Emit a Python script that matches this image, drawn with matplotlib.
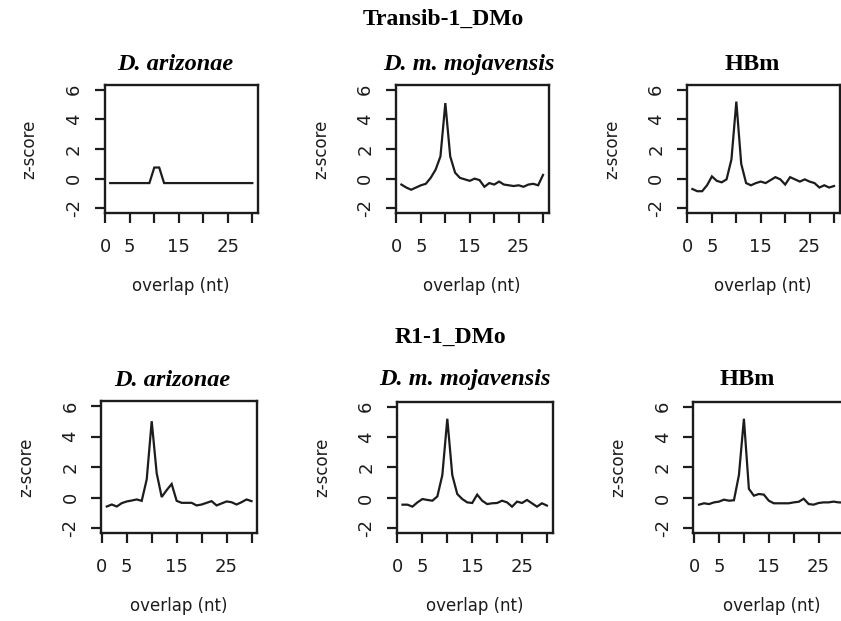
import numpy as np
import matplotlib

matplotlib.use("Agg")
import matplotlib.pyplot as plt

# overlap length (nt) on the x axis, same for every panel
overlap = np.arange(1, 31)

# z-scores, one list per panel
transib_ari = [-0.3, -0.3, -0.3, -0.3, -0.3, -0.3, -0.3, -0.3, -0.3, 0.75,
               0.75, -0.3, -0.3, -0.3, -0.3, -0.3, -0.3, -0.3, -0.3, -0.3,
               -0.3, -0.3, -0.3, -0.3, -0.3, -0.3, -0.3, -0.3, -0.3, -0.3]
transib_moj = [-0.4, -0.6, -0.75, -0.6, -0.45, -0.35, 0.05, 0.6, 1.5, 5.1,
               1.5, 0.4, 0.05, -0.05, -0.15, 0.0, -0.1, -0.55, -0.3, -0.4,
               -0.2, -0.4, -0.45, -0.5, -0.45, -0.55, -0.4, -0.35, -0.45, 0.25]
transib_hbm = [-0.7, -0.85, -0.85, -0.45, 0.15, -0.15, -0.25, -0.05, 1.3, 5.2,
               1.0, -0.3, -0.45, -0.3, -0.2, -0.3, -0.1, 0.1, -0.05, -0.4,
               0.1, -0.05, -0.2, -0.05, -0.2, -0.3, -0.6, -0.45, -0.6, -0.5]
r1_ari = [-0.57, -0.44, -0.57, -0.35, -0.24, -0.18, -0.11, -0.2, 1.2, 5.0,
          1.6, 0.05, 0.5, 0.9, -0.2, -0.33, -0.33, -0.33, -0.5, -0.44,
          -0.33, -0.22, -0.5, -0.37, -0.24, -0.29, -0.44, -0.29, -0.11, -0.22]
r1_moj = [-0.44, -0.44, -0.57, -0.29, -0.07, -0.13, -0.18, 0.1, 1.5, 5.2,
          1.5, 0.26, -0.07, -0.29, -0.33, 0.22, -0.18, -0.4, -0.35, -0.33,
          -0.18, -0.29, -0.57, -0.24, -0.33, -0.13, -0.35, -0.57, -0.35, -0.5]
r1_hbm = [-0.44, -0.35, -0.4, -0.29, -0.24, -0.11, -0.18, -0.15, 1.5, 5.2,
          0.6, 0.15, 0.26, 0.22, -0.18, -0.35, -0.35, -0.35, -0.35, -0.29,
          -0.25, -0.05, -0.4, -0.44, -0.33, -0.29, -0.29, -0.24, -0.29, -0.3]

species = ["D. arizonae", "D. m. mojavensis", "HBm"]
families = ["Transib-1_DMo", "R1-1_DMo"]

xticks = [0, 5, 10, 15, 20, 25, 30]
xticklabels = ["0", "5", "", "15", "", "25", ""]  # R drops the crowded ones
yticks = [-2, 0, 2, 4, 6]

W, H = 841, 621
ink = "#1c1c1c"
sans = "DejaVu Sans"
serif = "Liberation Serif"

fig = plt.figure(figsize=(W / 100, H / 100), dpi=100)
fig.patch.set_facecolor("white")


def box(left, top, width, height):
    # pixel box (from top-left) -> figure fraction
    return [left / W, 1 - (top + height) / H, width / W, height / H]


def panel(rect, values):
    ax = fig.add_axes(rect)
    ax.plot(overlap, values, color=ink, linewidth=1.6, solid_joinstyle="miter")
    ax.set_xlim(-0.16, 31.16)
    ax.set_ylim(-2.32, 6.32)
    ax.set_xticks(xticks)
    ax.set_xticklabels(xticklabels)
    ax.set_yticks(yticks)
    ax.set_yticklabels([str(v) for v in yticks], rotation=90, va="center")
    ax.tick_params(direction="out", length=7.5, width=1.6, color=ink,
                   labelsize=13, labelcolor=ink)
    ax.tick_params(axis="x", pad=10.5)
    ax.tick_params(axis="y", pad=8)
    for lbl in ax.get_xticklabels() + ax.get_yticklabels():
        lbl.set_family(sans)
    for s in ax.spines.values():
        s.set_linewidth(1.7)
        s.set_color(ink)
    ax.set_xlabel("overlap (nt)", fontsize=12, family=sans, color=ink, labelpad=15)
    ax.set_ylabel("z-score", fontsize=12, family=sans, color=ink, labelpad=19)
    return ax


panel(box(104.5, 85, 153.5, 128), transib_ari)
panel(box(395.7, 85, 153, 128), transib_moj)
panel(box(686.7, 85, 153, 128), transib_hbm)
panel(box(101, 401, 156.3, 132.3), r1_ari)
panel(box(396.7, 401.7, 156, 131.6), r1_moj)
panel(box(693.3, 401.7, 156, 131.6), r1_hbm)

# panel titles
title_pos = [(175, 70), (469, 70), (752, 70), (172.5, 386), (465, 385), (747.5, 385)]
for i, (x, y) in enumerate(title_pos):
    name = species[i % 3]
    style = "normal" if name == "HBm" else "italic"
    fig.text(x / W, 1 - y / H, name, ha="center", va="baseline", family=serif,
             weight="bold", style=style, fontsize=17.5, color="black")

# family titles
fig.text(443 / W, 1 - 25 / H, families[0], ha="center", va="baseline",
         family=serif, weight="bold", fontsize=17, color="black")
fig.text(450 / W, 1 - 343 / H, families[1], ha="center", va="baseline",
         family=serif, weight="bold", fontsize=17, color="black")

fig.savefig("out.png", dpi=100, facecolor="white")
